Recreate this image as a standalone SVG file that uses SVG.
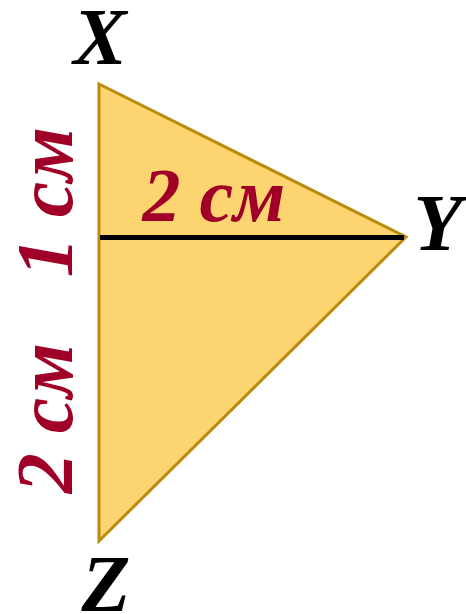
<svg xmlns="http://www.w3.org/2000/svg" width="466" height="614" viewBox="0 0 466 614">
<style>
.lbl{font-family:"Liberation Serif","Times New Roman",serif;font-weight:bold;font-style:italic;fill:#000;font-size:80px;text-anchor:middle}
.m{font-family:"Liberation Serif","Times New Roman",serif;font-weight:bold;font-style:italic;fill:#A00028;text-anchor:middle}
</style>
<rect width="466" height="614" fill="#fff"/>
<g id="triangle">
<polygon points="99,84 406,237 99,541" fill="#FCD470" stroke="#BB8A0E" stroke-width="3" stroke-linejoin="miter"/>
</g>
<g id="connectors">
<line x1="100" y1="237.5" x2="404" y2="237.5" stroke="#000" stroke-width="5"/>
</g>
<g id="labels">
<text class="lbl" x="100" y="64">X</text>
<text class="lbl" x="438" y="250">Y</text>
<text class="lbl" x="106" y="611">Z</text>
<text class="m" x="214" y="221" font-size="76">2 см</text>
<text class="m" font-size="80" transform="translate(72,202) rotate(-90)">1 см</text>
<text class="m" font-size="80" transform="translate(72,418) rotate(-90)">2 см</text>
</g>
</svg>
